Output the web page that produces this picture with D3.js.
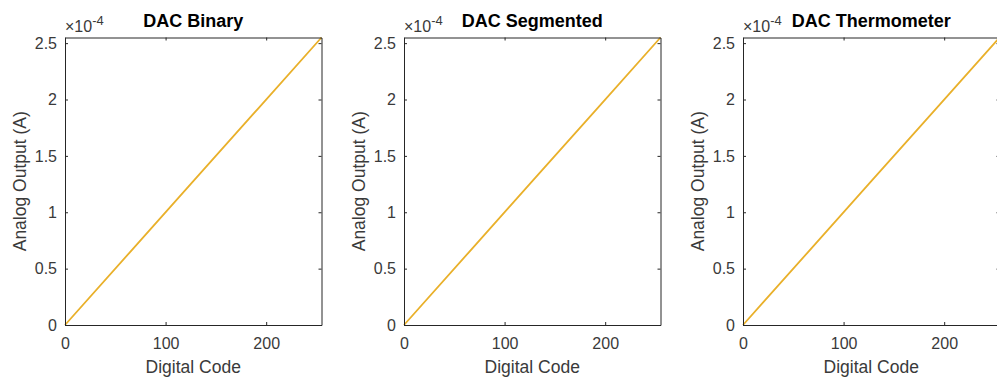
<!DOCTYPE html>
<html><head><meta charset="utf-8">
<script src="https://cdn.jsdelivr.net/npm/d3@7"></script>
<style>
html,body{margin:0;padding:0;background:#fff;overflow:hidden}
text{font-family:"Liberation Sans",Arial,Helvetica,sans-serif}
</style></head>
<body><svg id="c" width="997" height="377"></svg>
<script>
const titles = ["DAC Binary", "DAC Segmented", "DAC Thermometer"];
const codes = [0, 64, 128, 192, 255];
const binaryOut = [0, 0.64e-4, 1.28e-4, 1.92e-4, 2.55e-4];
const segmentedOut = [0, 0.64e-4, 1.28e-4, 1.92e-4, 2.55e-4];
const thermometerOut = [0, 0.64e-4, 1.28e-4, 1.92e-4, 2.55e-4];
const xTicks = [0, 100, 200];
const yTicks = [0, 0.5e-4, 1e-4, 1.5e-4, 2e-4, 2.5e-4];
const xLabel = "Digital Code";
const yLabel = "Analog Output (A)";

const series = [binaryOut, segmentedOut, thermometerOut];
const svg = d3.select("#c");
const lefts = [65, 404, 743];
const plotW = 256.5, plotTop = 37.5, plotBottom = 325;
const axisColor = "#262626";
const textColor = "#3a3a3a";

lefts.forEach((L, i) => {
  const x = d3.scaleLinear().domain([0, 255]).range([L, L + plotW]);
  const y = d3.scaleLinear().domain([0, 2.55e-4]).range([plotBottom, plotTop]);
  const g = svg.append("g");
  const fmtY = v => String(+(v * 1e4).toFixed(1));

  const line = d3.line().x((d, k) => x(codes[k])).y(d => y(d));
  g.append("path").datum(series[i]).attr("d", line)
    .attr("fill", "none").attr("stroke", "#E9B02A").attr("stroke-width", 1.8);

  const ax = d3.axisBottom(x).tickValues(xTicks).tickSizeInner(-3).tickSizeOuter(0).tickPadding(13);
  const ay = d3.axisLeft(y).tickValues(yTicks).tickSizeInner(-3).tickSizeOuter(0).tickPadding(8).tickFormat(fmtY);
  const axT = d3.axisTop(x).tickValues(xTicks).tickSizeInner(-3).tickSizeOuter(0).tickFormat("");
  const ayR = d3.axisRight(y).tickValues(yTicks).tickSizeInner(-3).tickSizeOuter(0).tickFormat("");

  const gx = g.append("g").attr("transform", `translate(0,${plotBottom})`).call(ax);
  const gy = g.append("g").attr("transform", `translate(${L},0)`).call(ay);
  const gt = g.append("g").attr("transform", `translate(0,${plotTop})`).call(axT);
  const gr = g.append("g").attr("transform", `translate(${L + plotW},0)`).call(ayR);
  [gx, gy, gt, gr].forEach(a => {
    a.select(".domain").attr("stroke", axisColor).attr("stroke-width", 1);
    a.selectAll(".tick line").attr("stroke", axisColor).attr("stroke-width", 1);
    a.selectAll(".tick text").attr("fill", textColor).style("font-size", "16px")
      .style("font-family", '"Liberation Sans",Arial,sans-serif');
  });

  g.append("text").attr("x", L + plotW / 2).attr("y", 27).attr("text-anchor", "middle")
    .style("font-size", "18px").style("font-weight", "bold").attr("fill", "#000").text(titles[i]);
  const ex = g.append("text").attr("x", L).attr("y", 32).attr("fill", textColor).style("font-size", "16px");
  ex.append("tspan").text("\u00d710");
  ex.append("tspan").attr("dy", -7).style("font-size", "13px").text("-4");
  g.append("text").attr("x", L + plotW / 2).attr("y", 373).attr("text-anchor", "middle")
    .attr("fill", textColor).style("font-size", "17.5px").text(xLabel);
  g.append("text").attr("transform", `translate(${L - 39},${(plotTop + plotBottom) / 2}) rotate(-90)`)
    .attr("text-anchor", "middle").attr("fill", textColor).style("font-size", "17.5px").text(yLabel);
});
</script></body></html>
